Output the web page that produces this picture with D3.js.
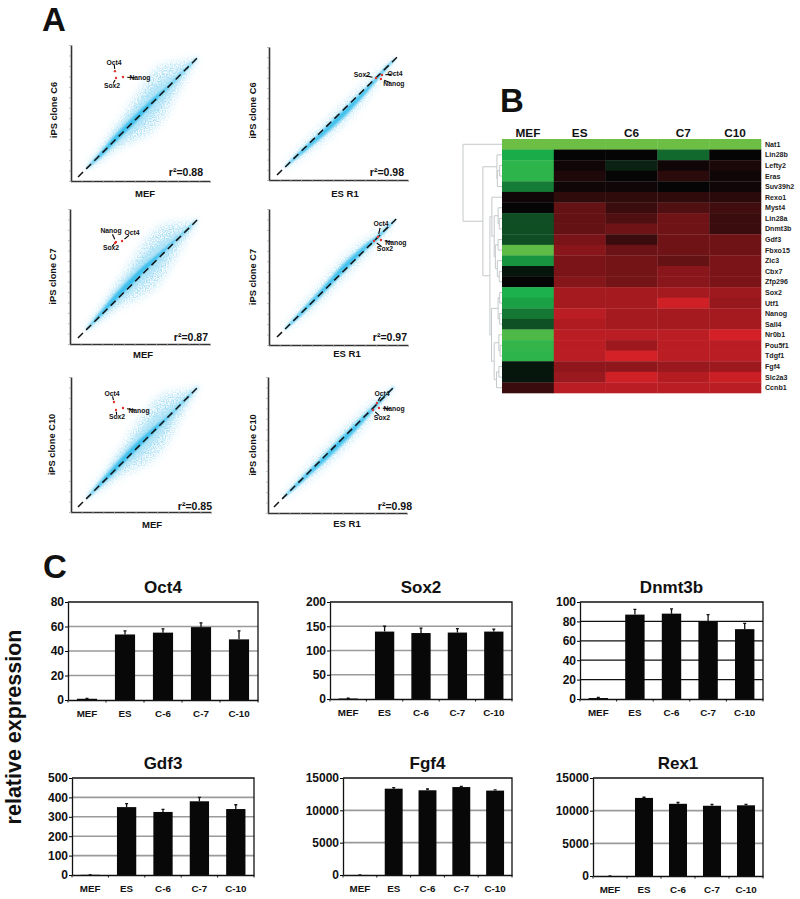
<!DOCTYPE html>
<html><head><meta charset="utf-8">
<script src="https://cdn.jsdelivr.net/npm/d3@7/dist/d3.min.js"></script>
<style>html,body{margin:0;padding:0;background:#fff}svg{display:block}text{font-family:"Liberation Sans",Arial,sans-serif;font-weight:bold;fill:#111}</style>
</head><body><svg id="c" width="800" height="899"></svg>
<script>
// ---------- Panel A data (expression units, hand read) ----------
const cloudStations=[1.5,3,4,5,6,7,8,9,10,11,11.8];
const mefOuter=[.1,.6,1,1.45,2.05,2.55,2.75,2.3,1.4,.6,.1];
const mefMid=[.08,.42,.7,.9,1.1,1.25,1.2,.9,.5,.25,.08];
const mefCore=[.05,.24,.34,.38,.38,.34,.24,.14,.09,.08,.04];
const esOuter=[.1,.45,.65,.75,.85,.9,.85,.7,.5,.3,.1];
const esMid=[.08,.28,.36,.42,.48,.52,.48,.38,.26,.17,.07];
const esCore=[.04,.14,.18,.22,.26,.28,.25,.18,.12,.08,.04];
const scatterXDomain=[0,13];
const scatterXLabels=["MEF","ES R1"];
const scatterYLabels=["iPS clone C6","iPS clone C7","iPS clone C10"];
const rSquared=["r²=0.88","r²=0.98","r²=0.87","r²=0.97","r²=0.85","r²=0.98"];
const cloudShift=[[0,0,.1,.1,.1,.1,.1,0,0,0,0],[0,-.1,-.2,-.3,-.35,-.4,-.35,-.3,-.15,0,0],[0,.15,.3,.35,.35,.35,.25,.2,.1,0,0],[0,0,.05,.1,.2,.3,.25,.2,0,0,0],[0,.1,.15,.2,.2,.15,.1,0,0,0,0],[0,-.05,-.1,-.15,-.15,-.15,-.15,-.1,-.05,0,0]];
const diagonalX=[[.66,11.8],[.75,11.97],[.74,11.8],[.75,11.9],[.65,11.7],[.56,11.69]];
const diagonalY=[[.38,11.76],[.49,12],[.58,11.94],[.76,12.05],[.48,11.94],[.57,11.95]];
const markerGenes=["Oct4","Sox2","Nanog"];
const oct4Points=[[4.11,10.5],[10.57,10.26],[4.83,9.92],[10.19,10.32],[3.99,10.59],[10.19,10.52]];
const sox2Points=[[4.21,9.85],[10,9.97],[4.18,9.73],[9.82,9.94],[4.18,9.82],[9.82,9.85]];
const nanogPoints=[[4.86,9.94],[10.47,9.87],[4.27,9.82],[10.47,10.04],[4.83,10.02],[10.38,10.04]];
// ---------- Panel B data ----------
const heatColumns=["MEF","ES","C6","C7","C10"];
const heatGenes=["Nat1","Lin28b","Lefty2","Eras","Suv39h2","Rexo1","Myst4","Lin28a","Dnmt3b","Gdf3","Fbxo15","Zic3","Cbx7","Zfp296","Sox2","Utf1","Nanog","Sall4","Nr0b1","Pou5f1","Tdgf1","Fgf4","Slc2a3","Ccnb1"];
const heatValues=[[-1,-1,-1,-1,-1],[-.7,0,0,-.42,0],[-.78,.05,-.12,.05,.1],[-.78,.12,0,.18,.05],[-.5,.05,.05,0,.05],[.05,.2,.2,.2,.18],[0,.45,.25,.35,.28],[-.3,.45,.35,.5,.25],[-.3,.45,.5,.5,.25],[-.3,.55,.25,.5,.5],[-.95,.62,.48,.5,.5],[-.6,.55,.52,.45,.55],[-.07,.55,.52,.62,.55],[0,.6,.52,.62,.55],[-.72,.75,.75,.75,.72],[-.65,.75,.75,.95,.68],[-.48,.85,.75,.75,.75],[-.32,.8,.75,.75,.75],[-.9,.85,.85,.85,.97],[-.8,.85,.72,.85,.85],[-.78,.85,.97,.85,.85],[-.07,.65,.65,.7,.72],[-.07,.7,.95,.82,.93],[.25,.85,.85,.85,.85]];
const dendrogram=[1,"Nat1",[.49,[.13,"Lin28b",[.12,[.06,"Lefty2","Eras"],"Suv39h2"]],[.31,[.26,"Rexo1",[.2,[.1,"Myst4",[.07,"Lin28a","Dnmt3b"]],[.17,[.1,"Gdf3","Fbxo15"],[.12,"Zic3",[.07,"Cbx7","Zfp296"]]]]],[.27,[.1,[.06,"Sox2","Utf1"],[.06,"Nanog","Sall4"]],[.2,[.08,"Nr0b1",[.05,"Pou5f1","Tdgf1"]],[.14,[.08,"Fgf4","Slc2a3"],"Ccnb1"]]]]]];
// ---------- Panel C data ----------
const barCategories=["MEF","ES","C-6","C-7","C-10"];
const barTitles=["Oct4","Sox2","Dnmt3b","Gdf3","Fgf4","Rex1"];
const barMax=[80,200,100,500,15000,15000];
const barStep=[20,50,20,100,5000,5000];
const oct4Bars=[1,53.5,55,59.5,49.5],oct4Tops=[1.3,56.5,58,63,56.5];
const sox2Bars=[1,139,136,137,139],sox2Tops=[1.5,150,146,145,144];
const dnmt3bBars=[1,87,88,80,72],dnmt3bTops=[1.6,92.5,93,87,78];
const gdf3Bars=[1,350,325,380,340],gdf3Tops=[1,368,338,400,362];
const fgf4Bars=[5,13350,13100,13600,13050],fgf4Tops=[5,13500,13300,13720,13170];
const rex1Bars=[5,11950,11050,10750,10820],rex1Tops=[5,12050,11250,10950,10950];

const svg=d3.select("#c");
const defs=svg.append("defs");
function speckle(id,blur,seed){
  const sp=defs.append("filter").attr("id",id).attr("x","-20%").attr("y","-20%").attr("width","140%").attr("height","140%");
  sp.append("feGaussianBlur").attr("in","SourceGraphic").attr("stdDeviation",blur).attr("result","soft");
  sp.append("feTurbulence").attr("type","fractalNoise").attr("baseFrequency",.75).attr("numOctaves",1).attr("seed",seed).attr("result","n");
  sp.append("feColorMatrix").attr("in","n").attr("type","matrix").attr("values","0 0 0 0 0 0 0 0 0 0 0 0 0 0 0 3.2 0 0 0 -1.15").attr("result","m");
  sp.append("feComposite").attr("in","soft").attr("in2","m").attr("operator","in").attr("result","s");
  sp.append("feGaussianBlur").attr("in","s").attr("stdDeviation",.35);
}
speckle("speckle",4,4);
defs.append("filter").attr("id","b1").attr("x","-20%").attr("y","-20%").attr("width","140%").attr("height","140%").append("feGaussianBlur").attr("stdDeviation",2.2);
defs.append("filter").attr("id","b2").attr("x","-20%").attr("y","-20%").attr("width","140%").attr("height","140%").append("feGaussianBlur").attr("stdDeviation",1);

// panel letters
const letters=[["A",42,31],["B",500,112],["C",43,578]];
svg.selectAll(".letter").data(letters).join("text").attr("x",d=>d[1]).attr("y",d=>d[2]).style("font-size","33px").text(d=>d[0]);

// ---- Panel A layout
const scatterBox=[[71,210,45,181],[269,408,47,180],[70,210,209,344],[269,408,209,345],[71,211,377,512],[268,407,377,513]];
const yLabelX=[54,253,53,253,52,253];
const xLabelPos=[[145,197],[345,197],[143,358],[347,357],[152,528],[347,527]];
const rPos=[[203,176],[404,176],[208,341],[407,341],[212,510],[412,510]];
const labelOff=[[[-1,-9],[-4,8],[17,1]],[[13,-1],[-14,-3],[13,5]],[[10,-8],[-4,5],[-5,-11]],[[3,-13],[11,8],[15,3]],[[-2,-8],[1,7],[16,3]],[[5,-9],[9,8],[15,1]]];

scatterBox.forEach((b,i)=>{
  const g=svg.append("g");
  const x=d3.scaleLinear().domain(scatterXDomain).range([b[0],b[1]]);
  const y=d3.scaleLinear().domain(scatterXDomain).range([b[3],b[2]]);
  const mef=i%2===0;
  const lx=diagonalX[i],ly=diagonalY[i];
  const centre=t=>ly[0]+(t-lx[0])*(ly[1]-ly[0])/(lx[1]-lx[0]);
  const layers=mef?[[mefOuter,"#7fd0f0",.75,"url(#speckle)"],[mefMid,"#a5e0f6",.75,"url(#b1)"],[mefCore,"#37bdec",.95,"url(#b2)"]]
                  :[[esOuter,"#7fd0f0",.75,"url(#speckle)"],[esMid,"#8ddaf5",.85,"url(#b2)"],[esCore,"#37bdec",.95,"url(#b2)"]];
  layers.forEach(([w,col,op,f])=>{
    const area=d3.area().curve(d3.curveCatmullRom).x((t)=>x(t))
      .y0((t,k)=>y(centre(t)+cloudShift[i][k]-w[k]))
      .y1((t,k)=>y(centre(t)+cloudShift[i][k]+w[k]));
    g.append("path").datum(cloudStations).attr("d",area).attr("fill",col).attr("opacity",op).attr("filter",f);
  });
  g.append("line").attr("x1",x(lx[0])).attr("y1",y(ly[0])).attr("x2",x(lx[1])).attr("y2",y(ly[1]))
    .attr("stroke","#111").attr("stroke-width",1.5).attr("stroke-dasharray","7 4.5");
  const ax=g.append("g").attr("transform",`translate(0,${b[3]})`).call(d3.axisBottom(x).ticks(13).tickSize(2).tickSizeOuter(0).tickFormat(""));
  const ay=g.append("g").attr("transform",`translate(${b[0]},0)`).call(d3.axisLeft(y).ticks(13).tickSize(2).tickSizeOuter(0).tickFormat(""));
  [ax,ay].forEach(a=>{a.select(".domain").attr("stroke","#333").attr("stroke-width",1.6);a.selectAll(".tick line").attr("stroke","#aaa").attr("stroke-width",.8);});
  g.append("text").attr("transform",`translate(${yLabelX[i]},${(b[2]+b[3])/2+(i<2?-3:0)}) rotate(-90)`).attr("text-anchor","middle").attr("dy","0.35em").style("font-size","9.3px").text(scatterYLabels[Math.floor(i/2)]);
  g.append("text").attr("x",xLabelPos[i][0]).attr("y",xLabelPos[i][1]).attr("text-anchor","middle").style("font-size","9.5px").text(scatterXLabels[i%2]);
  g.append("text").attr("x",rPos[i][0]).attr("y",rPos[i][1]).attr("text-anchor","end").style("font-size","10.5px").text(rSquared[i]);
  [oct4Points,sox2Points,nanogPoints].forEach((pts,k)=>{
    const px=x(pts[i][0]),py=y(pts[i][1]),o=labelOff[i][k];
    g.append("line").attr("x1",px+o[0]*.25).attr("y1",py+o[1]*.25).attr("x2",px+o[0]*.7).attr("y2",py+o[1]*.7).attr("stroke","#000").attr("stroke-width",1.1);
    g.append("circle").attr("cx",px).attr("cy",py).attr("r",1.2).attr("fill","#e2342f");
    g.append("text").attr("x",px+o[0]).attr("y",py+o[1]).attr("text-anchor","middle").attr("dy","0.35em").style("font-size","6.8px").text(markerGenes[k]);
  });
});

// ---- Panel B
const hx=d3.scaleBand().domain(heatColumns).range([502,761]);
const hy=d3.scaleBand().domain(heatGenes).range([139,393]);
const hc=d3.scaleLinear().domain([-1,-.72,0,1]).range(["#6cbe45","#1cb14c","#050505","#da2128"]);
const hg=svg.append("g");
heatGenes.forEach((gene,r)=>{heatColumns.forEach((col,c)=>{
  hg.append("rect").attr("x",hx(col)).attr("y",hy(gene)).attr("width",hx.bandwidth()+.3).attr("height",hy.bandwidth()+.3).attr("fill",hc(heatValues[r][c]));
});});
hg.selectAll(".ch").data(heatColumns).join("text").attr("x",d=>hx(d)+hx.bandwidth()/2).attr("y",137).attr("text-anchor","middle").style("font-size","11.8px").text(d=>d);
hg.selectAll(".gl").data(heatGenes).join("text").attr("x",765).attr("y",d=>hy(d)+hy.bandwidth()/2).attr("dy","0.35em").style("font-size","7.1px").style("fill","#222").text(d=>d);
const dx=d3.scaleLinear().domain([0,1]).range([502,463]);
const dg=hg.append("g").attr("fill","none").attr("stroke","#c4c9cb").attr("stroke-width",1);
function drawTree(n){
  if(typeof n==="string")return{y:hy(n)+hy.bandwidth()/2,h:0};
  const a=drawTree(n[1]),b=drawTree(n[2]);
  const px=dx(n[0]);
  dg.append("path").attr("d",d3.line()([[dx(a.h),a.y],[px,a.y],[px,b.y],[dx(b.h),b.y]]));
  return{y:(a.y+b.y)/2,h:n[0]};
}
drawTree(dendrogram);

// ---- Panel C
const barBox=[[68,258,602,700],[330,512,602,699],[580,763,602,699],[72,254,778,875],[343,512,778,875],[593,763,778,876]];
const barVals=[oct4Bars,sox2Bars,dnmt3bBars,gdf3Bars,fgf4Bars,rex1Bars];
const barErr=[oct4Tops,sox2Tops,dnmt3bTops,gdf3Tops,fgf4Tops,rex1Tops];
barBox.forEach((b,i)=>{
  const g=svg.append("g");
  const x=d3.scaleBand().domain(barCategories).range([b[0],b[1]]).paddingInner(.47).paddingOuter(.235);
  const xt=d3.scaleBand().domain(barCategories).range([b[0],b[1]]);
  const y=d3.scaleLinear().domain([0,barMax[i]]).range([b[3],b[2]]);
  const ticks=d3.range(0,barMax[i]+1,barStep[i]);
  const gridCol=i===2?"#111":"#9a9a9a";
  g.selectAll(".grid").data(ticks.slice(1,-1)).join("line").attr("x1",b[0]).attr("x2",b[1]).attr("y1",d=>y(d)).attr("y2",d=>y(d)).attr("stroke",gridCol).attr("stroke-width",i===2?1.3:1.6);
  g.selectAll(".err").data(barCategories).join("path").attr("d",(c,k)=>{const cx=x(c)+x.bandwidth()/2;return d3.line()([[cx,y(barVals[i][k])],[cx,y(barErr[i][k])]])+d3.line()([[cx-1.5,y(barErr[i][k])],[cx+1.5,y(barErr[i][k])]]);}).attr("stroke","#111").attr("stroke-width",1.3).attr("fill","none");
  g.selectAll(".bar").data(barCategories).join("rect").attr("x",c=>x(c)).attr("width",x.bandwidth()).attr("y",(c,k)=>y(barVals[i][k])).attr("height",(c,k)=>y(0)-y(barVals[i][k])).attr("fill","#080808");
  g.append("path").attr("d",d3.line()([[b[0],b[2]],[b[1],b[2]],[b[1],b[3]]])).attr("fill","none").attr("stroke","#111").attr("stroke-width",1.3);
  const ay=g.append("g").attr("transform",`translate(${b[0]},0)`).call(d3.axisLeft(y).tickValues(ticks).tickSize(3).tickSizeOuter(0).tickFormat(d3.format("d")));
  ay.selectAll("text").style("font-size","12px").attr("x",-4);
  const ax=g.append("g").attr("transform",`translate(0,${b[3]})`).call(d3.axisBottom(xt).tickSize(0).tickSizeOuter(0));
  ax.selectAll("text").style("font-size","9.8px").attr("y",14).attr("dy","0.35em");
  ax.selectAll(".sep").data(barCategories).join("line").attr("x1",c=>xt(c)).attr("x2",c=>xt(c)).attr("y1",0).attr("y2",2.5).attr("stroke","#111");
  ax.append("line").attr("x1",b[1]).attr("x2",b[1]).attr("y1",0).attr("y2",2.5).attr("stroke","#111");
  [ax,ay].forEach(a=>a.select(".domain").attr("stroke","#111").attr("stroke-width",1.3));
  g.append("text").attr("x",(b[0]+b[1])/2).attr("y",b[2]-9).attr("text-anchor","middle").style("font-size","17px").text(barTitles[i]);
});
svg.append("text").attr("transform","translate(21,727) rotate(-90)").attr("text-anchor","middle").style("font-size","21.5px").text("relative expression");
</script></body></html>
